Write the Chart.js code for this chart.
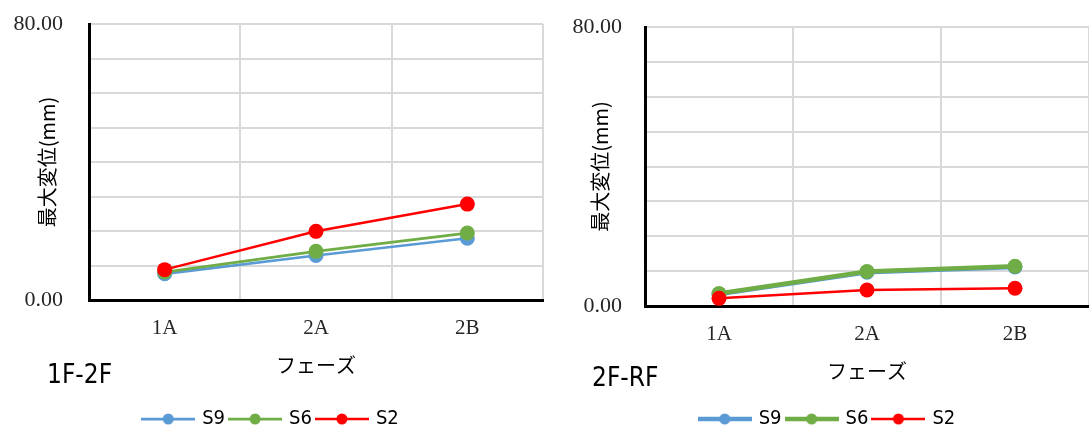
<!DOCTYPE html>
<html>
<head>
<meta charset="utf-8">
<script src="https://cdn.jsdelivr.net/npm/chart.js@4/dist/chart.umd.min.js"></script>
<style>
	html, body {margin: 0; padding: 0; background: #fff;}
	#wrap {position: relative; width: 1089px; height: 435px;}
	.box {position: absolute; top: 0; height: 435px;}
	#box1 {left: 0; width: 545px;}
	#box2 {left: 545px; width: 544px;}
</style>
</head>
<body>
<div id="wrap">
	<div class="box" id="box1"><canvas id="chart1"></canvas></div>
	<div class="box" id="box2"><canvas id="chart2"></canvas></div>
</div>
<script>
// data
const phases = ['1A', '2A', '2B'];
const seriesNames = ['S9', 'S6', 'S2'];

const s9_1F2F = [7.6, 12.9, 17.9];
const s6_1F2F = [8.1, 14.1, 19.4];
const s2_1F2F = [8.8, 19.9, 27.8];

const s9_2FRF = [3.4, 9.7, 11.2];
const s6_2FRF = [3.6, 9.9, 11.4];
const s2_2FRF = [2.2, 4.6, 5.1];

const yTicks = [0, 80];

const colors = ['#5B9BD5', '#70AD47', '#FF0000'];
const JP = "'Noto Sans CJK JP', sans-serif";
const NARROW = "'Liberation Sans Narrow', 'DejaVu Sans Condensed', 'Noto Sans CJK JP', sans-serif";
const SERIF = "'Liberation Serif', serif";

// legend swatch : line + dot
function legendSwatch(color, lw) {
	const c = document.createElement('canvas');
	c.width = 54;
	c.height = 14;
	const g = c.getContext('2d');
	g.strokeStyle = color;
	g.lineWidth = lw;
	g.beginPath();
	g.moveTo(0, 7);
	g.lineTo(54, 7);
	g.stroke();
	g.fillStyle = color;
	g.beginPath();
	g.arc(27, 7, 5.5, 0, Math.PI * 2);
	g.fill();
	return c;
}

function cornerLabel(text, x, y) {
	return {
		id: 'cornerLabel',
		afterDraw(chart) {
			const ctx = chart.ctx;
			ctx.save();
			ctx.fillStyle = '#000';
			ctx.font = '26px ' + NARROW;
			ctx.textAlign = 'left';
			ctx.textBaseline = 'middle';
			ctx.fillText(text, x, y);
			ctx.restore();
		}
	};
}

function makeChart(id, values, widths, cfg) {
	const ctx = document.getElementById(id).getContext('2d');
	const swatches = colors.map((c, i) => legendSwatch(c, widths[i]));

	const datasets = seriesNames.map((name, i) => ({
		label: name,
		data: values[i],
		borderColor: colors[i],
		backgroundColor: colors[i],
		borderWidth: widths[i],
		pointRadius: 7.5,
		pointHoverRadius: 7.5,
		pointBorderWidth: 0,
		pointBackgroundColor: colors[i],
		order: 3 - i,
		tension: 0
	}));

	return new Chart(ctx, {
		type: 'line',
		data: {labels: phases, datasets: datasets},
		options: {
			responsive: true,
			maintainAspectRatio: false,
			animation: false,
			layout: {
				autoPadding: false,
				padding: {top: cfg.top, left: cfg.padLeft, right: cfg.padRight, bottom: -4}
			},
			scales: {
				x: {
					offset: true,
					grid: {offset: true, color: '#D9D9D9', lineWidth: 2, drawTicks: false},
					border: {display: true, color: '#000', width: 3},
					ticks: {color: '#262626', padding: 16, font: {family: SERIF, size: 21}},
					title: {display: true, text: 'フェーズ', color: '#000',
						font: {family: JP, size: 20}, padding: {top: 0, bottom: cfg.xTitlePad}},
					afterFit(scale) {
						scale.height = cfg.xHeight;
						scale.paddingLeft = 0;
						scale.paddingRight = 0;
					}
				},
				y: {
					min: 0,
					max: 80,
					grid: {color: '#D9D9D9', lineWidth: 2, drawTicks: false},
					border: {display: true, color: '#000', width: 3},
					ticks: {
						stepSize: 10,
						color: '#262626',
						padding: cfg.yTickPad,
						font: {family: SERIF, size: 22},
						callback: (v) => yTicks.includes(v) ? v.toFixed(2) : ''
					},
					title: {display: true, text: '最大変位(mm)', color: '#000',
						font: {family: JP, size: 20}, padding: {top: cfg.yTitlePad, bottom: 0}},
					afterFit(scale) {
						scale.width = cfg.yWidth;
						scale.paddingTop = 0;
						scale.paddingBottom = 0;
					}
				}
			},
			plugins: {
				legend: {
					position: 'bottom',
					labels: {
						usePointStyle: true,
						pointStyleWidth: 48,
						padding: 6,
						color: '#000',
						font: {family: NARROW, size: 20},
						sort: (a, b) => a.datasetIndex - b.datasetIndex,
						generateLabels(chart) {
							const items = Chart.defaults.plugins.legend.labels.generateLabels(chart);
							items.forEach(it => {it.pointStyle = swatches[it.datasetIndex];});
							return items;
						}
					}
				},
				tooltip: {enabled: false}
			}
		},
		plugins: [cornerLabel(cfg.name, cfg.nameX, cfg.nameY)]
	});
}

makeChart('chart1', [s9_1F2F, s6_1F2F, s2_1F2F], [2.75, 2.75, 2.5], {
	name: '1F-2F', nameX: 47, nameY: 376,
	top: 24, padLeft: 0, padRight: 2,
	yWidth: 89, yTickPad: 26, yTitlePad: 35,
	xHeight: 103, xTitlePad: 26
});

makeChart('chart2', [s9_2FRF, s6_2FRF, s2_2FRF], [4.5, 4.5, 2.5], {
	name: '2F-RF', nameX: 47, nameY: 379,
	top: 27, padLeft: 22, padRight: 0,
	yWidth: 78, yTickPad: 23, yTitlePad: 21,
	xHeight: 97, xTitlePad: 20
});
</script>
</body>
</html>
